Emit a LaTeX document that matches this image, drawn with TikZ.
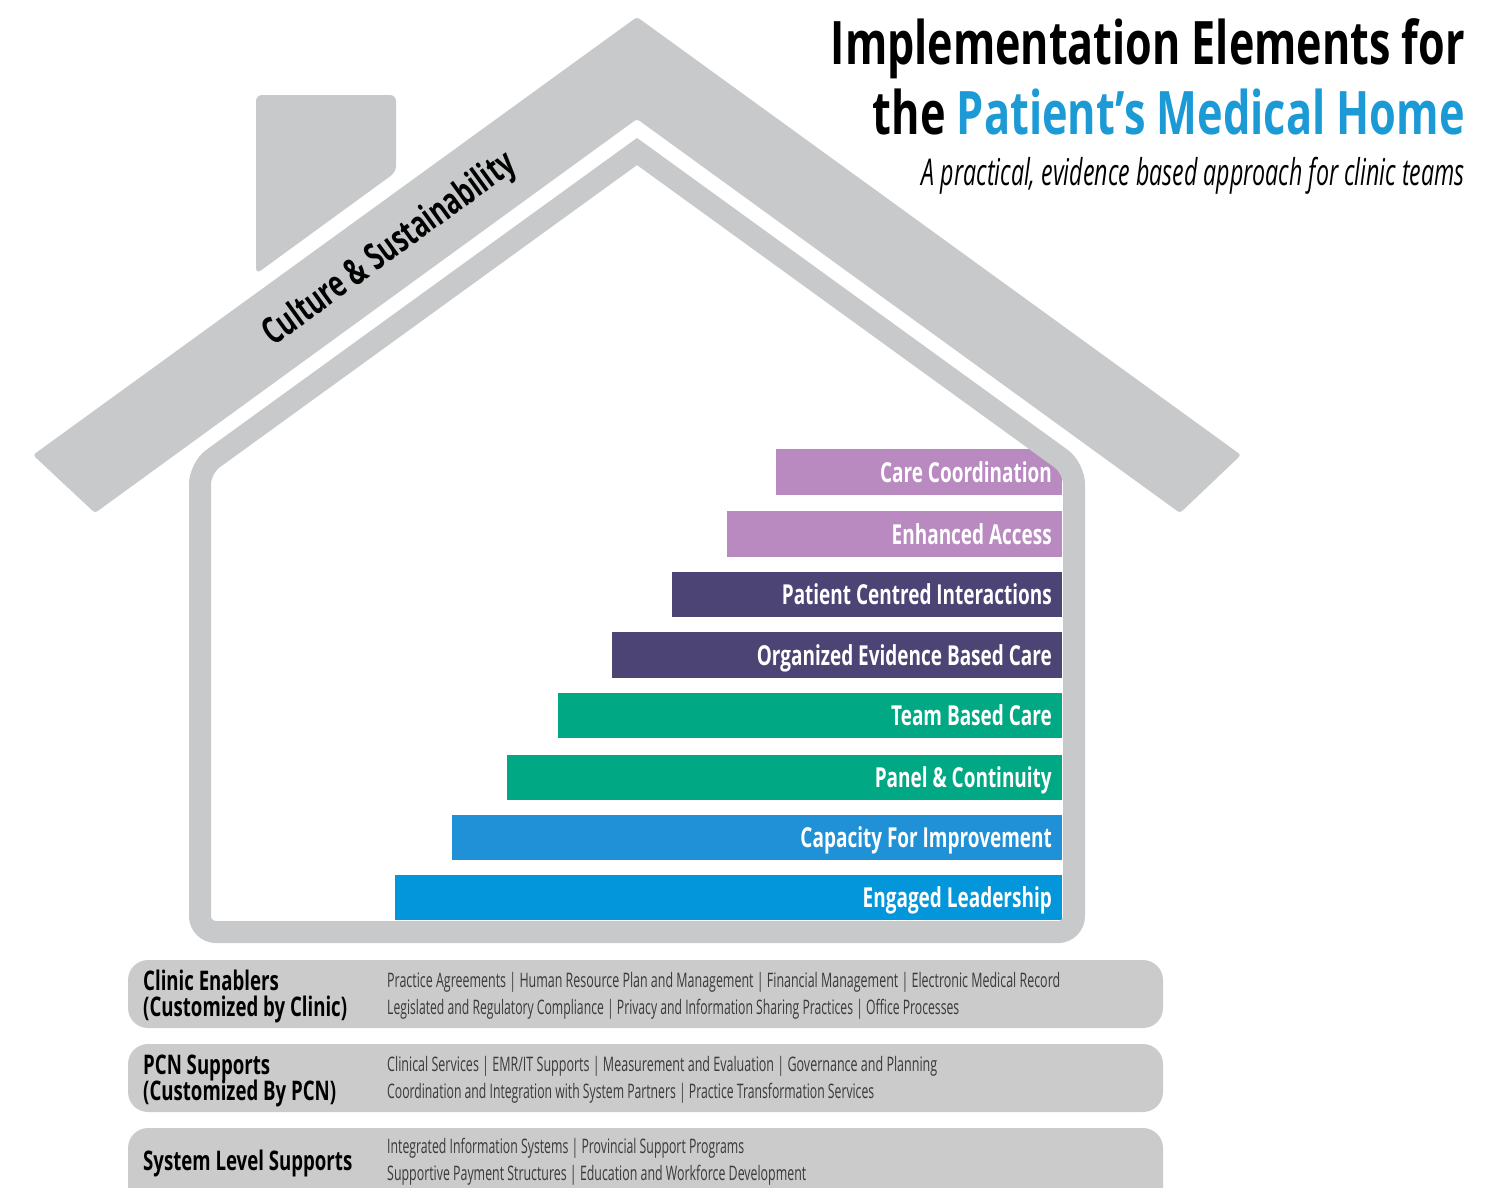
\documentclass[tikz,border=0pt]{standalone}
\usepackage{fontspec}
\setmainfont{Open Sans}
\newfontfamily\condfont[FakeStretch=0.69]{Open Sans}
\usepackage{graphicx}
\definecolor{roofgray}{RGB}{200,201,202}
\definecolor{bandgray}{RGB}{203,203,204}
\definecolor{ccpurple}{RGB}{184,138,192}
\definecolor{navy}{RGB}{75,68,117}
\definecolor{teal}{RGB}{0,168,132}
\definecolor{capblue}{RGB}{32,145,214}
\definecolor{engblue}{RGB}{4,150,218}
\definecolor{titleblue}{RGB}{28,154,214}
\definecolor{detailgray}{RGB}{58,58,60}
\newcommand\fitto[2]{\resizebox{#1}{\height}{#2}}
\begin{document}
\begin{tikzpicture}[x=1pt,y=-1pt,
  barlabel/.style={anchor=base east, inner sep=0, text=white,
    font=\condfont\bfseries\fontsize{27.5}{27.5}\selectfont},
  bandlabel/.style={anchor=base west, inner sep=0, text=black,
    font=\condfont\bfseries\fontsize{27}{27}\selectfont},
  detail/.style={anchor=base west, inner sep=0, text=detailgray,
    font=\fontsize{20}{20}\selectfont},
  titletext/.style={anchor=base east, inner sep=0, text=black,
    font=\bfseries\fontsize{60}{60}\selectfont},
  band/.style={fill=bandgray, rounded corners=20}
]
\useasboundingbox (0,0) rectangle (1511,1187);

% roof and chimney
\fill[roofgray, rounded corners=3] (33,455) -- (637,17) -- (1241,455) -- (1180,513) -- (637,119) -- (95,513) -- cycle;
\fill[roofgray, rounded corners=6] (256,274) -- (256,95) -- (396,95) -- (396,172) -- cycle;

% bars
\fill[ccpurple] (776,449) rectangle (1062,495);
\fill[ccpurple] (727,511) rectangle (1062,557);
\fill[navy] (672,572) rectangle (1062,617);
\fill[navy] (612,632) rectangle (1062,678);
\fill[teal] (558,693) rectangle (1062,738);
\fill[teal] (507,755) rectangle (1062,800);
\fill[capblue] (452,815) rectangle (1062,860);
\fill[engblue] (395,875) rectangle (1062,920);

\node[barlabel] (cc) at (1052,482) {Care Coordination};
\node[barlabel] (ea) at (1052,544) {Enhanced Access};
\node[barlabel] (pci) at (1052,604.5) {Patient Centred Interactions};
\node[barlabel] (oebc) at (1052,665) {Organized Evidence Based Care};
\node[barlabel] (tbc) at (1052,725.5) {Team Based Care};
\node[barlabel] (pc) at (1052,787.5) {Panel \& Continuity};
\node[barlabel] (cfi) at (1052,847.5) {Capacity For Improvement};
\node[barlabel] (el) at (1052,907.5) {Engaged Leadership};

% house wall
\draw[roofgray, line width=22, line join=miter] (637,151.5) [rounded corners=16] -- (1074,468) -- (1074,932) -- (200,932) -- (200,468) [sharp corners] -- cycle;

% roof label
\node[inner sep=0, rotate=36, font=\condfont\bfseries\fontsize{37}{37}\selectfont] (culture) at (390,250) {Culture \& Sustainability};

% title
\node[titletext] (title1) at (1465,64) {\fitto{634pt}{Implementation Elements for}};
\node[titletext] (title2) at (1465,134) {\fitto{592pt}{the \textcolor{titleblue}{Patient’s Medical Home}}};
\node[anchor=base east, inner sep=0, font=\itshape\fontsize{37}{37}\selectfont] (subtitle) at (1465,185) {\fitto{543pt}{A practical, evidence based approach for clinic teams}};

% bottom bands
\fill[band] (128,960) rectangle (1163,1028);
\fill[band] (128,1044) rectangle (1163,1112);
\fill[band] (128,1128) rectangle (1163,1215);

\node[bandlabel] (ce1) at (143,990) {Clinic Enablers};
\node[bandlabel] (ce2) at (143,1016) {(Customized by Clinic)};
\node[bandlabel] (pcn1) at (143,1074) {PCN Supports};
\node[bandlabel] (pcn2) at (143,1100) {(Customized By PCN)};
\node[bandlabel] (sls) at (143,1170) {System Level Supports};

\node[detail] (d1) at (387,987) {\fitto{673pt}{Practice Agreements | Human Resource Plan and Management | Financial Management | Electronic Medical Record}};
\node[detail] (d2) at (387,1014) {\fitto{572pt}{Legislated and Regulatory Compliance | Privacy and Information Sharing Practices | Office Processes}};
\node[detail] (d3) at (387,1071) {\fitto{550pt}{Clinical Services | EMR/IT Supports | Measurement and Evaluation | Governance and Planning}};
\node[detail] (d4) at (387,1098) {\fitto{487pt}{Coordination and Integration with System Partners | Practice Transformation Services}};
\node[detail] (d5) at (387,1153) {\fitto{357pt}{Integrated Information Systems | Provincial Support Programs}};
\node[detail] (d6) at (387,1180) {\fitto{419pt}{Supportive Payment Structures | Education and Workforce Development}};
\end{tikzpicture}
\end{document}
